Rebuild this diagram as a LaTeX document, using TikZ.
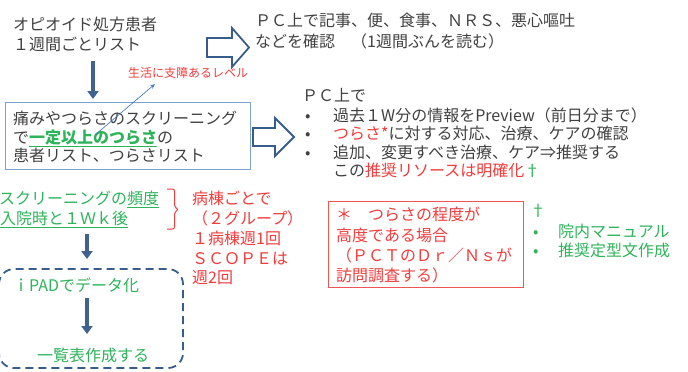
\documentclass[tikz,border=0pt]{standalone}
\usepackage{fontspec}
\setmainfont{Noto Sans CJK JP}
\usetikzlibrary{arrows.meta}
\definecolor{tgray}{HTML}{404040}
\definecolor{tred}{HTML}{F03C3C}
\definecolor{tgreen}{HTML}{2DB35A}
\definecolor{darrow}{HTML}{3F6290}
\definecolor{barrow}{HTML}{385D8A}
\definecolor{boxline}{HTML}{7F9FCC}
\definecolor{thinarrow}{HTML}{4A7EBB}
\definecolor{rboxline}{HTML}{F05555}
\tikzset{
  lbl/.style={inner sep=0pt, anchor=west, text height=14pt, text depth=2pt, font=\fontsize{16}{19}\selectfont},
  txt/.style={lbl, text=tgray},
  rtxt/.style={lbl, text=tred},
  gtxt/.style={lbl, text=tgreen},
  downarrow/.style={draw=darrow, line width=3.6pt, -{Triangle[width=11pt,length=8pt]}},
  blockarrow/.style={draw=barrow, line width=1.8pt, fill=white, line join=miter},
}
\begin{document}
\begin{tikzpicture}[x=1pt,y=-1pt]
\useasboundingbox (0,0) rectangle (688,372);

% top-left
\node[txt] (op1) at (13,24) {オピオイド処方患者};
\node[txt] (op2) at (13,44) {１週間ごとリスト};

% block arrow 1
\draw[blockarrow] (207,38) -- (232,38) -- (232,28) -- (249,47.5) -- (232,67) -- (232,57) -- (207,57) -- cycle;
\node[txt] (pc1) at (255,20) {ＰＣ上で記事、便、食事、ＮＲＳ、悪心嘔吐};
\node[txt] (pc2) at (255,41) {などを確認　（1週間ぶんを読む）};

% down arrow 1
\coordinate (a1s) at (93,61);
\coordinate (a1e) at (93,99);
\draw[downarrow] (a1s) -- (a1e);

\node[rtxt, font=\fontsize{12}{14}\selectfont, text height=10.5pt, text depth=1.5pt] (lvl) at (128,73) {生活に支障あるレベル};

% screening box
\node[draw=boxline, line width=1pt, minimum width=245pt, minimum height=67pt, inner sep=0pt, anchor=north west] (box) at (5,102) {};
\node[txt] (s1) at (13,118) {痛みやつらさのスクリーニング};
\node[txt] (s2) at (13,137) {で\textcolor{tgreen}{\bfseries\underline{一定以上のつらさ}}の};
\node[txt] (s3) at (13,155) {患者リスト、つらさリスト};

% thin arrow
\coordinate (t1) at (95,135);
\coordinate (t2) at (155,84);
\draw[draw=thinarrow, line width=0.7pt, -{Stealth[length=5pt,width=4pt]}] (t1) -- (t2);

% block arrow 2
\draw[blockarrow] (253,128) -- (275,128) -- (275,118) -- (294,137) -- (275,156) -- (275,146) -- (253,146) -- cycle;

% right list
\node[txt] (r0) at (302,95) {ＰＣ上で};
\node[txt] (rb1) at (305,115) {•};
\node[txt] (rb2) at (305,133) {•};
\node[txt] (rb3) at (305,152) {•};
\node[txt] (r1) at (333,115) {過去１W分の情報をPreview（前日分まで）};
\node[txt] (r2) at (333,133) {\textcolor{tred}{つらさ*}に対する対応、治療、ケアの確認};
\node[txt] (r3) at (333,152) {追加、変更すべき治療、ケア⇒推奨する};
\node[txt] (r4) at (333,170) {この\textcolor{tred}{推奨リソースは明確化}\textcolor{tgreen}{†}};

% green frequency text
\node[gtxt] (f1) at (-1,198) {スクリーニングの\underline{頻度}};
\node[gtxt] (f2) at (0,218) {\underline{入院時と１Ｗｋ後}};

% brace
\draw[tred, line width=1pt, rounded corners=2pt] (167,189) -- (174.5,189) -- (174.5,207) -- (178.5,209.5) -- (174.5,212) -- (174.5,229) -- (167,229);

% red ward text
\node[rtxt] (w1) at (192,198) {病棟ごとで};
\node[rtxt] (w2) at (192,218) {（２グループ）};
\node[rtxt] (w3) at (192,238) {１病棟週1回};
\node[rtxt] (w4) at (192,258) {ＳＣＯＰＥは};
\node[rtxt] (w5) at (192,277) {週2回};

% down arrow 2
\coordinate (a2s) at (87,234);
\coordinate (a2e) at (87,259);
\draw[downarrow] (a2s) -- (a2e);

% dashed group
\draw[draw=barrow, line width=1.8pt, dash pattern=on 8pt off 5pt, rounded corners=15pt] (-1,269) rectangle (183,368);
\node[gtxt] (ip) at (13,285) {ｉPADでデータ化};
\coordinate (a3s) at (87,298);
\coordinate (a3e) at (87,334);
\draw[downarrow] (a3s) -- (a3e);
\node[gtxt] (lst) at (37,355) {一覧表作成する};

% red box
\node[draw=rboxline, line width=1pt, minimum width=195pt, minimum height=86pt, inner sep=0pt, anchor=north west] (rbox) at (328,201) {};
\node[rtxt] (k1) at (336,214) {＊　つらさの程度が};
\node[rtxt] (k2) at (336,235) {高度である場合};
\node[rtxt] (k3) at (336,255) {（ＰＣＴのＤｒ／Ｎｓが};
\node[rtxt] (k4) at (336,275) {訪問調査する）};

% green dagger list
\node[gtxt] (dg) at (530,210) {†};
\node[gtxt] (gb1) at (533,231) {•};
\node[gtxt] (gb2) at (533,250) {•};
\node[gtxt] (g1) at (558,231) {院内マニュアル};
\node[gtxt] (g2) at (558,250) {推奨定型文作成};
\end{tikzpicture}
\end{document}
